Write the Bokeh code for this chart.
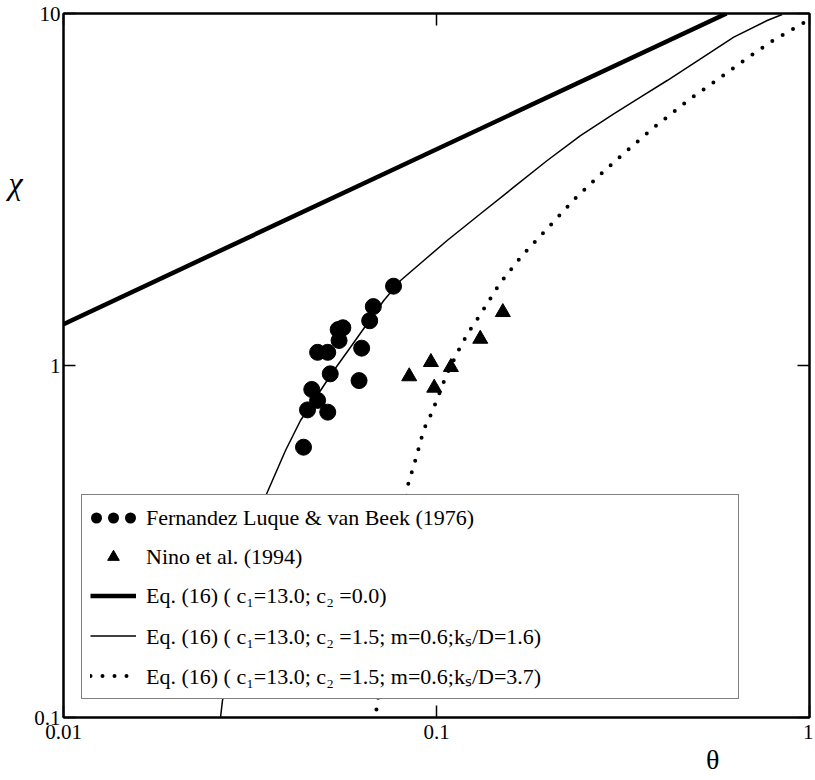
from bokeh.plotting import figure
from bokeh.models import (FixedTicker, CustomJSTickFormatter, LogAxis, Legend,
                          LegendItem, Range1d)
from bokeh.embed import file_html
from bokeh.resources import INLINE

# ---------------- data ----------------
x_ticks = [0.01, 0.1, 1]
y_ticks = [0.1, 1, 10]

# Fernandez Luque & van Beek (1976)
theta_flb = [0.0767, 0.0677, 0.0662, 0.0545, 0.0561, 0.0548, 0.0480, 0.0511,
             0.0630, 0.0519, 0.0620, 0.0463, 0.0480, 0.0451, 0.0511, 0.0440]
chi_flb = [1.68, 1.47, 1.34, 1.265, 1.28, 1.178, 1.09, 1.09,
           1.12, 0.947, 0.906, 0.855, 0.796, 0.748, 0.737, 0.586]

# Nino et al. (1994)
theta_nino = [0.1506, 0.131, 0.0966, 0.1093, 0.0845, 0.0986]
chi_nino = [1.417, 1.19, 1.022, 0.989, 0.931, 0.864]

# Eq. (16) c1=13.0; c2=0.0
theta_c0 = [0.01, 0.0708, 0.599]
chi_c0 = [1.31, 3.466, 10.0]

# Eq. (16) c1=13.0; c2=1.5; m=0.6; ks/D=1.6
theta_k16 = [0.02636, 0.02668, 0.03479, 0.03937, 0.04319, 0.04788, 0.05305,
             0.05880, 0.06518, 0.07223, 0.08009, 0.09247, 0.1068, 0.1312,
             0.1611, 0.1981, 0.2432, 0.2987, 0.3523, 0.4154, 0.5103, 0.6266,
             0.7700, 0.8448]
chi_k16 = [0.1, 0.1117, 0.4244, 0.5734, 0.698, 0.822, 0.968,
           1.127, 1.314, 1.530, 1.744, 1.988, 2.265, 2.698,
           3.210, 3.823, 4.501, 5.188, 5.79, 6.451, 7.435, 8.564,
           9.552, 9.936]

# Eq. (16) c1=13.0; c2=1.5; m=0.6; ks/D=3.7
theta_k37 = [0.06902, 0.08378, 0.08823, 0.09247, 0.09636, 0.09982, 0.1062,
             0.1155, 0.1213, 0.1306, 0.1478, 0.1697, 0.1993, 0.2368, 0.2809,
             0.3139, 0.3788, 0.4747, 0.5656, 0.6765, 0.7943, 0.9799]
chi_k37 = [0.1053, 0.4561, 0.5481, 0.658, 0.721, 0.790, 0.937,
           1.123, 1.235, 1.387, 1.710, 2.054, 2.466, 3.001, 3.565,
           3.958, 4.704, 5.685, 6.480, 7.435, 8.343, 9.509]

labels = ["Fernandez Luque & van Beek (1976)",
          "Nino et al. (1994)",
          "Eq. (16) ( c\u2081=13.0; c\u2082 =0.0)",
          "Eq. (16) ( c\u2081=13.0; c\u2082 =1.5; m=0.6;k\u209b/D=1.6)",
          "Eq. (16) ( c\u2081=13.0; c\u2082 =1.5; m=0.6;k\u209b/D=3.7)"]
x_title = "\u03b8"
y_title = "\u03c7"
# where the axis titles sit along their axes (in axis units)
x_title_at = 0.55
y_title_at = 3.31

FONT = "Liberation Serif"

p = figure(width=813, height=780, x_axis_type="log", y_axis_type="log",
           x_range=Range1d(0.01, 1), y_range=Range1d(0.1, 10),
           output_backend="svg", toolbar_location=None,
           min_border_left=63, min_border_right=4, min_border_top=13,
           min_border_bottom=63)
p.grid.visible = False
p.background_fill_color = "white"
p.border_fill_color = "white"
p.outline_line_color = "black"
p.outline_line_width = 2

fmt = CustomJSTickFormatter(code="return tick.toString();")


def style_axis(ax, ticks, show_labels, standoff):
    ax.ticker = FixedTicker(ticks=ticks)
    ax.axis_line_color = "black"
    ax.axis_line_width = 2
    ax.major_tick_in = 12
    ax.major_tick_out = 0
    ax.major_tick_line_width = 1.5
    ax.minor_tick_line_color = None
    ax.major_label_standoff = standoff
    if show_labels:
        ax.formatter = fmt
        ax.major_label_text_font = FONT
        ax.major_label_text_font_size = "21px"
        ax.major_label_text_color = "black"
    else:
        ax.formatter = CustomJSTickFormatter(code="return '';")
        ax.major_label_text_font_size = "0px"


style_axis(p.xaxis[0], x_ticks, True, 7)
style_axis(p.yaxis[0], y_ticks, True, 3)
top = LogAxis()
right = LogAxis()
style_axis(top, x_ticks, False, 0)
style_axis(right, y_ticks, False, 0)
p.add_layout(top, "above")
p.add_layout(right, "right")


def title_axis(tick, text, size, style, standoff):
    ax = LogAxis(ticker=FixedTicker(ticks=[tick]),
                 formatter=CustomJSTickFormatter(args=dict(t=text), code="return t;"))
    ax.axis_line_color = None
    ax.major_tick_line_color = None
    ax.minor_tick_line_color = None
    ax.major_tick_in = 0
    ax.major_tick_out = 0
    ax.major_label_standoff = standoff
    ax.major_label_text_font = FONT
    ax.major_label_text_font_size = size
    ax.major_label_text_font_style = style
    ax.major_label_text_color = "black"
    return ax


p.add_layout(title_axis(y_title_at, y_title, "32px", "italic", 9), "left")
p.add_layout(title_axis(x_title_at, x_title, "28px", "normal", 2), "below")

# curves
l0 = p.line(theta_c0, chi_c0, line_width=4.5, color="black")
l1 = p.line(theta_k16, chi_k16, line_width=1.5, color="black")
l2 = p.line(theta_k37, chi_k37, line_width=4, color="black",
            line_dash="0 12", line_cap="round")

# data points
c = p.scatter(theta_flb, chi_flb, marker="circle", size=16, color="black")
t = p.scatter(theta_nino, chi_nino, marker="triangle", size=15, color="black")

# legend helper (draws nothing in the plot): row of three dots for the circles entry
nan = float("nan")
dots = p.line(x=[nan, nan], y=[nan, nan], line_width=11, color="black",
              line_dash="0 17", line_dash_offset=11, line_cap="round")

legend = Legend(items=[LegendItem(label=labels[0], renderers=[dots]),
                       LegendItem(label=labels[1], renderers=[t]),
                       LegendItem(label=labels[2], renderers=[l0]),
                       LegendItem(label=labels[3], renderers=[l1]),
                       LegendItem(label=labels[4], renderers=[l2])],
                location=(18, 18), margin=0, padding=8,
                glyph_width=46, glyph_height=29, label_height=29,
                label_width=584,
                spacing=10, label_standoff=10,
                label_text_font=FONT, label_text_font_size="22px",
                label_text_color="black",
                border_line_color="black", border_line_width=1.5,
                background_fill_color="white", background_fill_alpha=1.0)
p.add_layout(legend)

open("out.html", "w").write(file_html(p, INLINE))
